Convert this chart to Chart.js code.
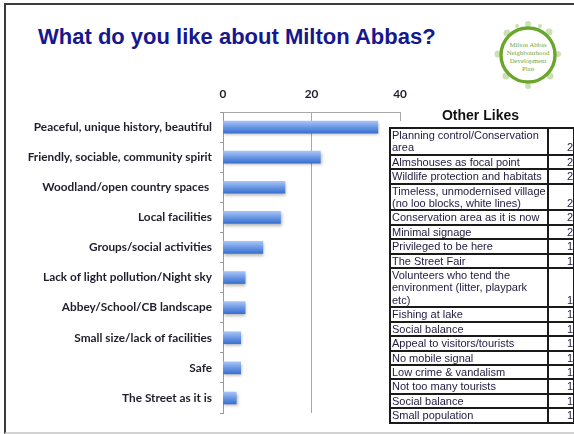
<!DOCTYPE html>
<html>
<head>
<meta charset="utf-8">
<script src="https://cdn.jsdelivr.net/npm/chart.js@4.4.0/dist/chart.umd.min.js"></script>
<style>
  html, body { margin: 0; padding: 0; background: #fff; }
  body { width: 574px; height: 434px; position: relative; overflow: hidden; font-family: "Liberation Sans", Arial, sans-serif; }
  #frame { position: absolute; left: 4px; top: 3px; width: 620px; height: 427px;
           border-left: 2px solid #3c3c3c; border-top: 2px solid #3c3c3c; border-bottom: 2px solid #d2d2d2; }
  #title { position: absolute; left: 38px; top: 26px; font: bold 22px/22px "Liberation Sans", Arial, sans-serif;
           color: #17178f; white-space: nowrap; }
  #chart { position: absolute; left: 0; top: 0; }
  #logo { position: absolute; left: 492px; top: 19px; }
  #likesBg { position: absolute; left: 389px; top: 121px; width: 190px; height: 305px; background: #fff; }
  #likesTitle { position: absolute; left: 389px; top: 108px; width: 183px; text-align: center;
                font: bold 14px/14px "Liberation Sans", Arial, sans-serif; color: #111; }
  #likes { position: absolute; left: 389px; top: 127px; border-collapse: collapse; table-layout: fixed; width: 184px; }
  #likes td { border: 2px solid #1a1a1a; font-size: 11px; line-height: 12.4px; padding: 0 1px;
              color: #221a40; vertical-align: top; white-space: pre-line; overflow: hidden; }
  #likes td.n { text-align: right; vertical-align: bottom; padding: 0; }
</style>
</head>
<body>
<div id="frame"></div>
<div id="title">What do you like about Milton Abbas?</div>

<svg id="logo" width="72" height="72" viewBox="0 0 72 72">
  <g fill="#b9d89a" opacity="0.75">
    <circle cx="15" cy="14" r="3.5"/>
    <circle cx="36" cy="5" r="3"/>
    <circle cx="57" cy="13" r="3.5"/>
    <circle cx="66" cy="35" r="3"/>
    <circle cx="58" cy="57" r="3.5"/>
    <circle cx="36" cy="67" r="3"/>
    <circle cx="14" cy="57" r="3.5"/>
    <circle cx="6" cy="35" r="3.5"/>
    <circle cx="25" cy="7" r="2"/>
    <circle cx="48" cy="7" r="2"/>
  </g>
  <circle cx="36" cy="36" r="27" fill="#fff" stroke="#6aa52c" stroke-width="3.4"/>
  <g font-family="'Liberation Serif', serif" font-size="6.8" fill="#74a83c" text-anchor="middle">
    <text x="36" y="28">Milton Abbas</text>
    <text x="36" y="36">Neighbourhood</text>
    <text x="36" y="44">Development</text>
    <text x="36" y="52">Plan</text>
  </g>
</svg>

<canvas id="chart" width="574" height="434"></canvas>

<div id="likesBg"></div>
<div id="likesTitle">Other Likes</div>
<table id="likes">
  <colgroup><col style="width:158px"><col style="width:26px"></colgroup>
  <tbody id="likesBody"></tbody>
</table>

<script>
// Main question: what residents like about the village
const categories = [
  "Peaceful, unique history, beautiful",
  "Friendly, sociable, community spirit",
  "Woodland/open country spaces ",
  "Local facilities",
  "Groups/social activities",
  "Lack of light pollution/Night sky",
  "Abbey/School/CB landscape",
  "Small size/lack of facilities",
  "Safe",
  "The Street as it is"
];
const counts = [35, 22, 14, 13, 9, 5, 5, 4, 4, 3];
const axisTicks = [0, 20, 40];

// Less frequent answers, listed in the side table
const otherLikes = [
  "Planning control/Conservation\narea",
  "Almshouses as focal point",
  "Wildlife protection and habitats",
  "Timeless, unmodernised village\n(no loo blocks, white lines)",
  "Conservation area as it is now",
  "Minimal signage",
  "Privileged to be here",
  "The Street Fair",
  "Volunteers who tend the\nenvironment (litter, playpark\netc)",
  "Fishing at lake",
  "Social balance",
  "Appeal to visitors/tourists",
  "No mobile signal",
  "Low crime & vandalism",
  "Not too many tourists",
  "Social balance",
  "Small population"
];
const otherLikeCounts = [2, 2, 2, 2, 2, 2, 1, 1, 1, 1, 1, 1, 1, 1, 1, 1, 1];

// Build the side table
const body = document.getElementById('likesBody');
otherLikes.forEach((txt, i) => {
  const tr = document.createElement('tr');
  const a = document.createElement('td');
  a.textContent = txt;
  const b = document.createElement('td');
  b.className = 'n';
  b.textContent = otherLikeCounts[i];
  tr.appendChild(a);
  tr.appendChild(b);
  body.appendChild(tr);
});

const BAR_H = 12;
const labelFont = { family: 'Lato', weight: 'bold', size: 11.8 };

// Vertical light-to-dark gradient for each bar
function barFill(ctx) {
  const chart = ctx.chart;
  if (ctx.type !== 'data' || !chart.scales.y) return '#6f9be6';
  const yc = chart.scales.y.getPixelForValue(ctx.dataIndex);
  if (!Number.isFinite(yc)) return '#6f9be6';
  const g = chart.ctx.createLinearGradient(0, yc - BAR_H / 2, 0, yc + BAR_H / 2);
  g.addColorStop(0, '#a6c4f5');
  g.addColorStop(0.5, '#6c98e5');
  g.addColorStop(1, '#3870cf');
  return g;
}

// Soft drop shadow under the bars
const barShadow = {
  id: 'barShadow',
  beforeDatasetsDraw(chart) {
    const c = chart.ctx;
    c.save();
    c.shadowColor = 'rgba(0,0,0,0.28)';
    c.shadowBlur = 3;
    c.shadowOffsetX = 1;
    c.shadowOffsetY = 2;
  },
  afterDatasetsDraw(chart) {
    chart.ctx.restore();
  }
};

new Chart(document.getElementById('chart'), {
  type: 'bar',
  data: {
    labels: categories,
    datasets: [{
      data: counts,
      backgroundColor: barFill,
      borderWidth: 0,
      barThickness: BAR_H
    }]
  },
  options: {
    indexAxis: 'y',
    responsive: false,
    animation: false,
    devicePixelRatio: 1,
    layout: { padding: { left: 0, right: 174, top: 80, bottom: 21 } },
    plugins: { legend: { display: false }, tooltip: { enabled: false } },
    scales: {
      x: {
        position: 'top',
        min: 0,
        max: 40,
        afterBuildTicks: s => { s.ticks = axisTicks.map(v => ({ value: v })); },
        afterFit: s => { s.height = 32; },
        grid: { color: '#a8a8a8', drawTicks: false, lineWidth: 1 },
        border: { color: '#a8a8a8' },
        ticks: { padding: 11, font: labelFont, color: '#1e1e2c' }
      },
      y: {
        afterFit: s => { s.width = 223; },
        grid: { offset: true, drawOnChartArea: false, drawTicks: true, tickLength: 3, color: '#999' },
        border: { color: '#999' },
        ticks: { padding: 8, font: labelFont, color: '#1e1e2c', autoSkip: false }
      }
    }
  },
  plugins: [barShadow]
});
</script>
</body>
</html>
